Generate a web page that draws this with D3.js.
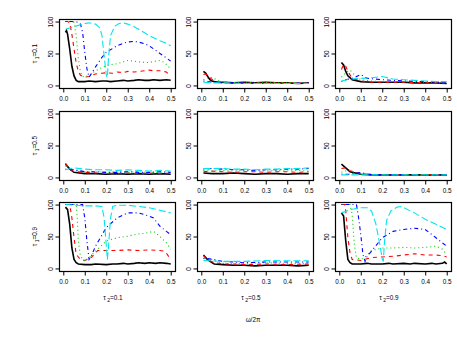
<!DOCTYPE html>
<html lang="en">
<head>
    <meta charset="UTF-8">
    <title>Spectral panels</title>
    <script src="https://cdn.jsdelivr.net/npm/d3@7"></script>
    <style>
        body { margin: 0; background: white; }
        text { font-family: "Liberation Sans", Arial, sans-serif; fill: black; }
    </style>
</head>
<body>
<script>
    const width  = 457;
    const height = 343;

    // tick values and labels
    const xTicks = [0, 0.1, 0.2, 0.3, 0.4, 0.5];
    const yTicks = [0, 50, 100];
    const rowLabels = ["0.1", "0.5", "0.9"];   // tau 1
    const colLabels = ["0.1", "0.5", "0.9"];   // tau 2

    // series order: black, red, green, blue, cyan  ([omega/2pi, value])
    const seriesColors = ["#000000", "#ff0000", "#00cd00", "#0000ff", "#00e5ee"];
    const seriesDash   = [null, "4,4", "1,3", "1,3,4,3", "7,3"];

    // tau1 = 0.1
    const r1c1 = [
        [[0.01,83],[0.015,86],[0.02,80],[0.03,57],[0.04,30],[0.05,15],[0.06,8],[0.07,6],[0.08,6],[0.1,6],[0.12,7],[0.15,6],[0.18,7],[0.2,7],[0.22,6],[0.25,7],[0.28,8],[0.3,7],[0.33,8],[0.35,9],[0.38,8],[0.4,8],[0.42,9],[0.45,8],[0.48,9],[0.5,8]],
        [[0.01,100],[0.02,100],[0.03,98],[0.04,80],[0.05,57],[0.06,35],[0.07,22],[0.08,16],[0.1,13],[0.12,14],[0.15,18],[0.18,19],[0.2,20],[0.23,19],[0.25,21],[0.28,20],[0.3,22],[0.33,21],[0.35,22],[0.38,23],[0.4,24],[0.42,23],[0.45,23],[0.48,21],[0.5,15]],
        [[0.01,100],[0.03,100],[0.05,99],[0.06,78],[0.07,42],[0.08,21],[0.09,14],[0.1,13],[0.12,16],[0.15,23],[0.18,28],[0.2,31],[0.23,33],[0.25,34],[0.28,37],[0.3,39],[0.33,38],[0.35,37],[0.38,36],[0.4,36],[0.43,38],[0.45,39],[0.47,36],[0.5,26]],
        [[0.01,100],[0.04,100],[0.07,99],[0.08,96],[0.09,83],[0.1,52],[0.11,26],[0.12,13],[0.13,18],[0.15,29],[0.18,44],[0.2,52],[0.23,58],[0.25,62],[0.28,66],[0.3,68],[0.33,69],[0.35,68],[0.38,65],[0.4,62],[0.43,55],[0.45,50],[0.48,43],[0.5,38]],
        [[0.01,88],[0.03,90],[0.05,92],[0.08,95],[0.1,97],[0.12,98],[0.15,96],[0.17,90],[0.18,78],[0.19,47],[0.2,16],[0.205,12],[0.21,42],[0.22,78],[0.24,93],[0.26,97],[0.28,98],[0.3,96],[0.33,92],[0.35,88],[0.38,82],[0.4,78],[0.43,73],[0.45,70],[0.48,66],[0.5,62]]
    ];
    const r1c2 = [
        [[0.01,22],[0.02,19.5],[0.03,14],[0.04,9],[0.05,7],[0.06,6],[0.08,5],[0.1,5],[0.15,4],[0.2,5],[0.25,4],[0.3,5],[0.35,4],[0.4,4],[0.45,3],[0.5,4]],
        [[0.01,17],[0.02,18],[0.03,15],[0.04,12],[0.06,7],[0.08,5],[0.1,5],[0.15,4],[0.2,4],[0.3,4],[0.4,4],[0.5,4]],
        [[0.01,9],[0.02,11],[0.04,13],[0.06,11],[0.07,9],[0.09,6],[0.12,5],[0.2,4],[0.3,4],[0.4,4],[0.5,4]],
        [[0.01,7],[0.03,6],[0.06,5],[0.1,4],[0.15,4],[0.2,4],[0.3,3],[0.4,3],[0.5,4]],
        [[0.01,5],[0.05,4],[0.1,4],[0.2,3],[0.3,3],[0.4,3],[0.5,3]]
    ];
    const r1c3 = [
        [[0.01,36],[0.02,32],[0.03,22],[0.04,15],[0.06,9],[0.1,6],[0.15,5],[0.2,5],[0.25,5],[0.3,5],[0.35,4],[0.4,4],[0.45,4],[0.5,3]],
        [[0.01,25],[0.02,33],[0.03,30],[0.04,22],[0.06,11],[0.1,7],[0.15,5],[0.2,5],[0.3,5],[0.4,4],[0.5,4]],
        [[0.01,13],[0.03,20],[0.05,24],[0.07,17],[0.1,9],[0.15,7],[0.2,6],[0.3,6],[0.4,5],[0.5,4]],
        [[0.01,6],[0.03,9],[0.06,11],[0.1,17],[0.13,11],[0.2,9],[0.3,7],[0.4,6],[0.5,5]],
        [[0.01,7],[0.05,10],[0.1,11],[0.15,12],[0.2,14],[0.25,10],[0.3,9],[0.35,8],[0.4,7],[0.45,6],[0.5,6]]
    ];

    // tau1 = 0.5
    const r2c1 = [
        [[0.01,21],[0.03,13],[0.05,8],[0.1,6],[0.15,6],[0.2,5],[0.25,6],[0.3,5],[0.35,6],[0.4,5],[0.45,6],[0.5,5]],
        [[0.01,22],[0.03,13],[0.05,9],[0.1,8],[0.15,7],[0.2,7],[0.25,6],[0.3,7],[0.35,6],[0.4,7],[0.45,6],[0.5,7]],
        [[0.01,18],[0.05,12],[0.1,9],[0.15,9],[0.2,8],[0.25,9],[0.3,8],[0.35,9],[0.4,8],[0.45,8],[0.5,9]],
        [[0.01,13],[0.05,12],[0.1,9],[0.15,9],[0.2,8],[0.25,8],[0.3,9],[0.35,8],[0.4,8],[0.45,9],[0.5,8]],
        [[0.01,12],[0.05,15],[0.1,13],[0.15,12],[0.2,12],[0.25,11],[0.3,12],[0.35,11],[0.4,10],[0.45,11],[0.5,10]]
    ];
    const r2c2 = [
        [[0.01,7],[0.05,6],[0.1,6],[0.15,7],[0.2,6],[0.25,5],[0.3,6],[0.35,6],[0.4,5],[0.45,6],[0.5,6]],
        [[0.01,9],[0.05,10],[0.1,9],[0.15,8],[0.2,9],[0.25,9],[0.3,8],[0.35,9],[0.4,9],[0.45,8],[0.5,9]],
        [[0.01,11],[0.05,10],[0.1,11],[0.15,10],[0.2,11],[0.25,10],[0.3,10],[0.35,11],[0.4,10],[0.45,11],[0.5,10]],
        [[0.01,13],[0.05,14],[0.1,13],[0.15,12],[0.2,12],[0.25,11],[0.3,12],[0.35,12],[0.4,13],[0.45,13],[0.5,14]],
        [[0.01,14],[0.05,14],[0.1,14],[0.15,13],[0.2,13],[0.25,12],[0.3,13],[0.35,13],[0.4,14],[0.45,14],[0.5,15]]
    ];
    const r2c3 = [
        [[0.01,21],[0.03,15],[0.05,9],[0.1,5],[0.15,4],[0.2,4],[0.3,4],[0.4,4],[0.5,4]],
        [[0.01,14],[0.03,15],[0.05,10.5],[0.1,6],[0.15,4],[0.2,4],[0.3,4],[0.4,4],[0.5,4]],
        [[0.01,8],[0.04,11.5],[0.07,8],[0.1,5],[0.2,4],[0.3,4],[0.4,4],[0.5,4]],
        [[0.01,5],[0.05,5],[0.1,8],[0.13,5],[0.2,4],[0.3,4],[0.4,3],[0.5,4]],
        [[0.01,4],[0.1,4],[0.2,4],[0.3,4],[0.4,4],[0.5,4]]
    ];

    // tau1 = 0.9
    const r3c1 = [
        [[0.01,96],[0.02,92],[0.03,69],[0.04,32],[0.05,14],[0.06,9],[0.07,7],[0.1,6],[0.13,6],[0.15,7],[0.2,6],[0.23,7],[0.25,7],[0.28,8],[0.3,7],[0.33,8],[0.35,9],[0.38,8],[0.4,9],[0.43,8],[0.45,9],[0.48,8],[0.5,7]],
        [[0.01,100],[0.03,100],[0.04,79],[0.05,48],[0.06,22],[0.08,14],[0.1,12.5],[0.13,17],[0.15,24],[0.16,28],[0.2,28],[0.25,28],[0.3,29],[0.35,28],[0.4,29],[0.45,28],[0.47,27],[0.48,24],[0.5,14]],
        [[0.01,100],[0.06,100],[0.065,79],[0.07,43],[0.08,19],[0.1,11],[0.12,17],[0.15,27],[0.2,43],[0.25,48],[0.3,50.5],[0.35,54],[0.38,55],[0.42,58],[0.45,50],[0.48,40],[0.5,30]],
        [[0.01,100],[0.09,100],[0.1,79],[0.11,43],[0.12,14],[0.13,19],[0.15,35],[0.2,64],[0.25,79],[0.3,87],[0.35,87],[0.4,82],[0.42,79],[0.45,66],[0.48,58],[0.5,53]],
        [[0.01,100],[0.05,99],[0.1,98],[0.15,98],[0.18,97],[0.19,79],[0.2,37],[0.205,14],[0.21,32],[0.22,79],[0.23,97],[0.25,99],[0.3,99],[0.35,97],[0.4,95],[0.45,91],[0.5,87]]
    ];
    const r3c2 = [
        [[0.01,21],[0.03,13.5],[0.06,7],[0.1,6],[0.15,5],[0.2,5],[0.25,4],[0.3,5],[0.35,5],[0.4,5],[0.45,4],[0.5,5]],
        [[0.01,20],[0.03,13.5],[0.06,9],[0.1,7],[0.15,7],[0.2,6],[0.3,7],[0.4,6],[0.5,7]],
        [[0.01,16],[0.05,13.5],[0.1,8],[0.15,8],[0.2,8],[0.3,9],[0.4,8],[0.5,8]],
        [[0.01,16],[0.05,14.5],[0.1,11],[0.15,10],[0.2,9],[0.3,10],[0.4,10],[0.5,10]],
        [[0.01,12.5],[0.1,11],[0.2,11],[0.3,12.5],[0.4,12],[0.5,12]]
    ];
    const r3c3 = [
        [[0.01,87],[0.02,82],[0.03,43],[0.04,14],[0.05,9],[0.06,7],[0.1,7],[0.13,8],[0.15,7],[0.2,7],[0.23,8],[0.25,7],[0.3,8],[0.33,7],[0.35,8],[0.4,7],[0.43,8],[0.45,7],[0.48,8],[0.49,10],[0.5,7]],
        [[0.01,100],[0.025,100],[0.03,90],[0.04,48],[0.05,24],[0.06,14],[0.1,12.5],[0.15,17],[0.2,18],[0.25,19],[0.3,21],[0.35,23],[0.4,21],[0.45,21],[0.48,20],[0.5,18]],
        [[0.01,100],[0.05,100],[0.06,84],[0.07,37.5],[0.08,17],[0.1,14],[0.12,18],[0.15,28],[0.2,32],[0.25,32],[0.3,33],[0.35,32],[0.4,33],[0.43,34],[0.45,35],[0.48,30],[0.5,22]],
        [[0.01,100],[0.08,100],[0.09,79],[0.1,53],[0.11,22],[0.12,11],[0.13,19],[0.15,27],[0.2,48],[0.25,58],[0.3,61],[0.35,63],[0.4,61],[0.45,48],[0.48,40],[0.5,35]],
        [[0.01,87],[0.05,92],[0.1,95],[0.13,95],[0.15,90],[0.17,70],[0.19,35],[0.2,15],[0.205,11],[0.21,40],[0.22,75],[0.24,90],[0.27,96],[0.29,97],[0.3,95],[0.35,87],[0.4,77],[0.45,69],[0.5,61]]
    ];

    const panels = [[r1c1, r1c2, r1c3], [r2c1, r2c2, r2c3], [r3c1, r3c2, r3c3]];

    // layout (plot box of each panel)
    const colLeft = [59, 197, 335];
    const rowTop  = [19, 111, 202];
    const boxW = 116;
    const boxH = 69;
    const fontSize = 6.4;

    const svg = d3.select("body").append("svg")
        .attr("width", width).attr("height", height);

    const lineGen = d3.line();

    panels.forEach((row, ri) => {
        row.forEach((series, ci) => {
            const left = colLeft[ci], top = rowTop[ri];
            const x = d3.scaleLinear().domain([-0.02, 0.52]).range([left, left + boxW]);
            const y = d3.scaleLinear().domain([-4, 104]).range([top + boxH, top]);

            const g = svg.append("g");

            lineGen.x(d => x(d[0])).y(d => y(d[1]));

            series.forEach((pts, si) => {
                g.append("path")
                    .attr("d", lineGen(pts))
                    .attr("fill", "none")
                    .attr("stroke", seriesColors[si])
                    .attr("stroke-width", si === 0 ? 1.6 : 1.1)
                    .attr("stroke-dasharray", seriesDash[si]);
            });

            // x axis
            const xa = g.append("g")
                .attr("transform", `translate(0,${top + boxH + 0.5})`)
                .call(d3.axisBottom(x).tickValues(xTicks).tickSize(4).tickFormat(d3.format(".1f")));
            xa.select(".domain").remove();
            xa.selectAll(".tick line").attr("stroke", "black");
            xa.selectAll(".tick text")
                .attr("y", 8)
                .style("font-size", fontSize + "px")
                .style("font-family", "'Liberation Sans', Arial, sans-serif")
                .attr("fill", "#222");

            // y axis, labels parallel to the axis
            const ya = g.append("g")
                .attr("transform", `translate(${left + 0.5},0)`)
                .call(d3.axisLeft(y).tickValues(yTicks).tickSize(4).tickFormat(d3.format("d")));
            ya.select(".domain").remove();
            ya.selectAll(".tick line").attr("stroke", "black");
            ya.selectAll(".tick text")
                .attr("x", null)
                .attr("text-anchor", "middle")
                .attr("transform", "translate(-9,0) rotate(-90)")
                .attr("dy", "0.35em")
                .style("font-size", fontSize + "px")
                .style("font-family", "'Liberation Sans', Arial, sans-serif")
                .attr("fill", "#222");
        });
    });

    // plot boxes, on top of everything
    const boxes = [];
    rowTop.forEach(t => colLeft.forEach(l => boxes.push([l, t])));
    svg.selectAll("rect.box")
        .data(boxes)
        .join("rect")
        .attr("class", "box")
        .attr("x", d => d[0] + 0.5).attr("y", d => d[1] + 0.5)
        .attr("width", boxW).attr("height", boxH)
        .attr("fill", "none")
        .attr("stroke", "black")
        .attr("stroke-width", 1.2);

    // row labels (tau 1)
    rowLabels.forEach((lab, ri) => {
        const t = svg.append("text")
            .attr("text-anchor", "middle")
            .attr("transform", `translate(35,${rowTop[ri] + boxH / 2}) rotate(-90)`)
            .attr("dy", "0.35em")
            .style("font-size", fontSize + "px")
            .attr("fill", "#222");
        t.append("tspan").text("τ");
        t.append("tspan").attr("dy", "0.3em").style("font-size", "5px").text(" 1");
        t.append("tspan").attr("dy", "-0.3em").text("=" + lab);
    });

    // column labels (tau 2)
    colLabels.forEach((lab, ci) => {
        const t = svg.append("text")
            .attr("text-anchor", "middle")
            .attr("x", colLeft[ci] + boxW / 2 - 4)
            .attr("y", 300)
            .style("font-size", fontSize + "px")
            .attr("fill", "#222");
        t.append("tspan").text("τ");
        t.append("tspan").attr("dy", "0.3em").style("font-size", "5px").text(" 2");
        t.append("tspan").attr("dy", "-0.3em").text("=" + lab);
    });

    svg.append("text")
        .attr("text-anchor", "middle")
        .attr("x", 253).attr("y", 322)
        .style("font-size", fontSize + "px")
        .attr("fill", "#222")
        .text("ω/2π");
</script>
</body>
</html>
